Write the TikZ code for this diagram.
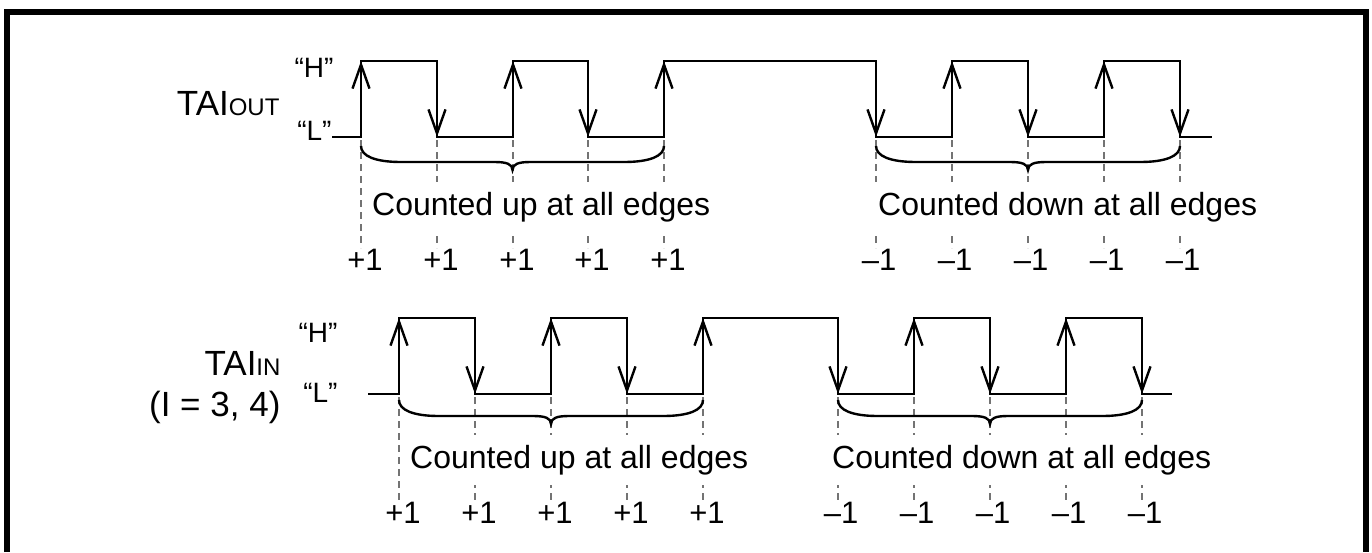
\documentclass[tikz,border=0pt]{standalone}
\usepackage{fontspec}
\setmainfont{Liberation Sans}
\usetikzlibrary{arrows.meta}
\tikzset{
  wave/.style={line width=2.6pt,line join=miter},
  edgetip/.style={line width=2.4pt,-{Straight Barb[length=24pt,width=17pt]}},
  guide/.style={black!55,line width=1.1pt,dash pattern=on 7pt off 5pt},
  bracepen/.style={line width=2.4pt},
  note/.style={fill=white,inner xsep=3pt,inner ysep=10pt,anchor=base west,font=\fontsize{32}{38}\selectfont},
  countlbl/.style={anchor=base,font=\fontsize{31}{36}\selectfont},
  levellbl/.style={anchor=base east,font=\fontsize{28}{32}\selectfont},
  siglbl/.style={anchor=base east,font=\fontsize{35}{40}\selectfont},
}
% curly brace under a group of edges: x from #1 to #2, top at y #3
\newcommand{\countbrace}[3]{%
  \draw[bracepen] (#1,#3) .. controls (#1,{#3+10}) and ({#1+14},{#3+16}) .. ({#1+40},{#3+16})
    -- ({(#1+#2)/2-18},{#3+16}) .. controls ({(#1+#2)/2-6},{#3+16}) and ({(#1+#2)/2},{#3+18}) .. ({(#1+#2)/2},{#3+24})
    .. controls ({(#1+#2)/2},{#3+18}) and ({(#1+#2)/2+6},{#3+16}) .. ({(#1+#2)/2+18},{#3+16})
    -- ({#2-40},{#3+16}) .. controls ({#2-14},{#3+16}) and (#2,{#3+10}) .. (#2,#3);}
\begin{document}
\begin{tikzpicture}[x=1pt,y=-1pt]
  \useasboundingbox (0,0) rectangle (1372,552);
  \draw[line width=6pt] (7,552) -- (7,12) -- (1366,12) -- (1366,552);

  % TAIOUT
  \node[siglbl] (taiout) at (283,115) {TAI{\fontsize{24}{28}\selectfont OUT}};
  \node[levellbl] (outH) at (337,77) {“H”};
  \node[levellbl] (outL) at (335,140) {“L”};
  \draw[wave] (332,137) -- (361,137) -- (361,61) -- (437,61) -- (437,137) -- (513,137) -- (513,61)
    -- (588,61) -- (588,137) -- (664,137) -- (664,61) -- (876,61) -- (876,137) -- (952,137)
    -- (952,61) -- (1028,61) -- (1028,137) -- (1104,137) -- (1104,61) -- (1180,61) -- (1180,137) -- (1212,137);
  \foreach \x in {361,513,664,952,1104} \draw[edgetip] (\x,137) -- (\x,61);
  \foreach \x in {437,588,876,1028,1180} \draw[edgetip] (\x,61) -- (\x,137);
  \foreach \x in {361,437,513,588,664,876,952,1028,1104,1180} \draw[guide] (\x,140) -- (\x,248);
  \countbrace{361}{664}{146}
  \countbrace{876}{1180}{146}
  \node[note] (outup) at (369,215) {Counted up at all edges};
  \node[note] (outdown) at (875,215) {Counted down at all edges};
  \foreach \x [count=\i] in {361,437,513,588,664} \node[countlbl] (outp\i) at ({\x+4},270) {+1};
  \foreach \x [count=\i] in {876,952,1028,1104,1180} \node[countlbl] (outm\i) at ({\x+3},270) {–1};

  % TAIIN
  \node[siglbl] (taiin) at (284,375) {TAI{\fontsize{24}{28}\selectfont IN}};
  \node[siglbl] (taich) at (284,416) {(I = 3, 4)};
  \node[levellbl] (inH) at (341,342) {“H”};
  \node[levellbl] (inL) at (341,402) {“L”};
  \draw[wave] (368,394) -- (399,394) -- (399,318) -- (475,318) -- (475,394) -- (551,394) -- (551,318)
    -- (627,318) -- (627,394) -- (703,394) -- (703,318) -- (838,318) -- (838,394) -- (914,394)
    -- (914,318) -- (990,318) -- (990,394) -- (1066,394) -- (1066,318) -- (1142,318) -- (1142,394) -- (1172,394);
  \foreach \x in {399,551,703,914,1066} \draw[edgetip] (\x,394) -- (\x,318);
  \foreach \x in {475,627,838,990,1142} \draw[edgetip] (\x,318) -- (\x,394);
  \foreach \x in {399,475,551,627,703,838,914,990,1066,1142} \draw[guide] (\x,397) -- (\x,503);
  \countbrace{399}{703}{400}
  \countbrace{838}{1142}{400}
  \node[note] (inup) at (407,468) {Counted up at all edges};
  \node[note] (indown) at (829,468) {Counted down at all edges};
  \foreach \x [count=\i] in {399,475,551,627,703} \node[countlbl] (inp\i) at ({\x+4},523) {+1};
  \foreach \x [count=\i] in {838,914,990,1066,1142} \node[countlbl] (inm\i) at ({\x+3},523) {–1};
\end{tikzpicture}
\end{document}
